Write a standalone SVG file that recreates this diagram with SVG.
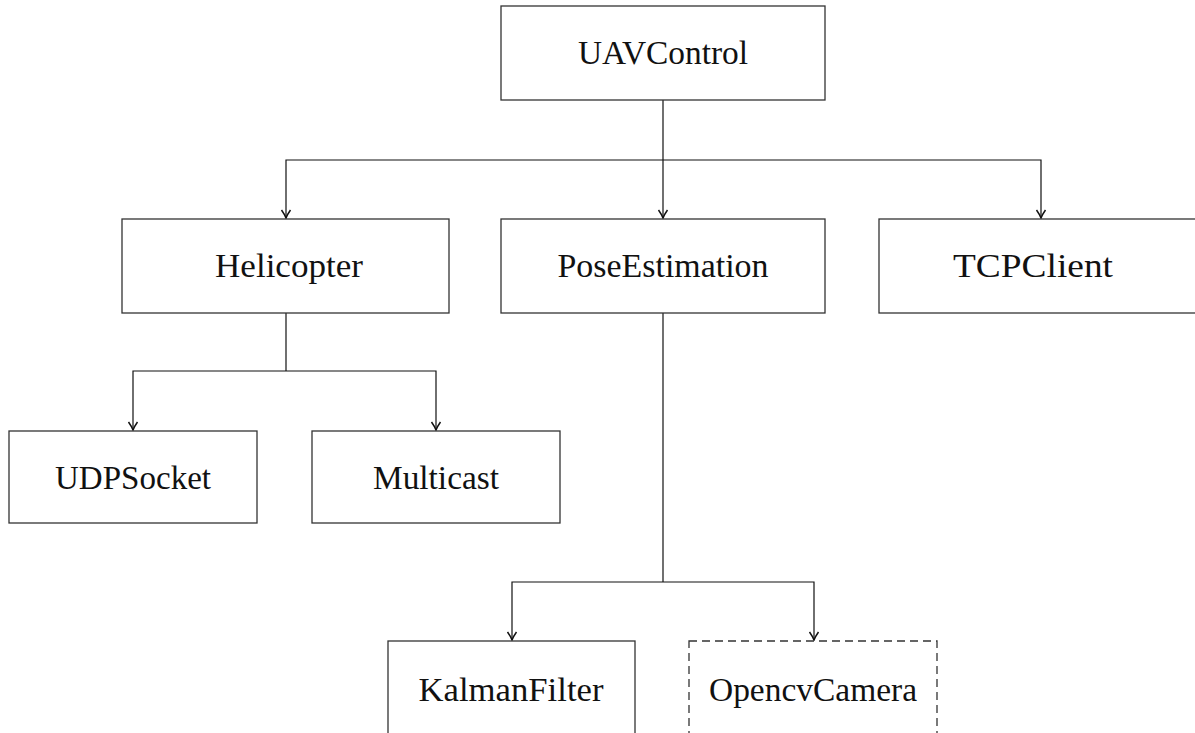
<svg xmlns="http://www.w3.org/2000/svg" width="1195" height="733" viewBox="0 0 1195 733">
<style>
.box{fill:#fff;stroke:#333;stroke-width:1.3}
.dash{stroke-dasharray:8 5}
.lbl{font-family:"Liberation Serif","DejaVu Serif",serif;font-size:33px;fill:#111;text-anchor:middle}
.edge{fill:none;stroke:#111;stroke-width:1.2}
</style>
<defs>
<marker id="arr" markerUnits="userSpaceOnUse" markerWidth="14" markerHeight="14" refX="0" refY="0" viewBox="-10 -7 14 14" orient="auto-start-reverse">
<path d="M-8,-4.5 Q-3,-1 0,0 Q-3,1 -8,4.5" fill="none" stroke="#111" stroke-width="1.5"/>
</marker>
</defs>
<g id="edges">
<path class="edge" d="M663,100 V218" marker-end="url(#arr)"/>
<path class="edge" d="M286,218 V160 H1041 V218" marker-start="url(#arr)" marker-end="url(#arr)"/>
<path class="edge" d="M286,313 V371"/>
<path class="edge" d="M133,430 V371 H436 V430" marker-start="url(#arr)" marker-end="url(#arr)"/>
<path class="edge" d="M663,313 V582"/>
<path class="edge" d="M512,640 V582 H814 V640" marker-start="url(#arr)" marker-end="url(#arr)"/>
</g>
<g id="n-uav"><rect class="box" x="501" y="6" width="324" height="94"/><text class="lbl" x="663" y="64" textLength="170" lengthAdjust="spacingAndGlyphs">UAVControl</text></g>
<g id="n-heli"><rect class="box" x="122" y="219" width="327" height="94"/><text class="lbl" x="289" y="277" textLength="148" lengthAdjust="spacingAndGlyphs">Helicopter</text></g>
<g id="n-pose"><rect class="box" x="501" y="219" width="324" height="94"/><text class="lbl" x="663" y="277" textLength="211" lengthAdjust="spacingAndGlyphs">PoseEstimation</text></g>
<g id="n-tcp"><rect class="box" x="879" y="219" width="324" height="94"/><text class="lbl" x="1033" y="277" textLength="160" lengthAdjust="spacingAndGlyphs">TCPClient</text></g>
<g id="n-udp"><rect class="box" x="9" y="431" width="248" height="92"/><text class="lbl" x="133" y="489" textLength="156" lengthAdjust="spacingAndGlyphs">UDPSocket</text></g>
<g id="n-multi"><rect class="box" x="312" y="431" width="248" height="92"/><text class="lbl" x="436" y="489" textLength="126" lengthAdjust="spacingAndGlyphs">Multicast</text></g>
<g id="n-kalman"><rect class="box" x="388" y="641" width="247" height="100"/><text class="lbl" x="511" y="701" textLength="185" lengthAdjust="spacingAndGlyphs">KalmanFilter</text></g>
<g id="n-cam"><rect class="box dash" x="689" y="641" width="248" height="100"/><text class="lbl" x="813" y="701" textLength="208" lengthAdjust="spacingAndGlyphs">OpencvCamera</text></g>
</svg>
